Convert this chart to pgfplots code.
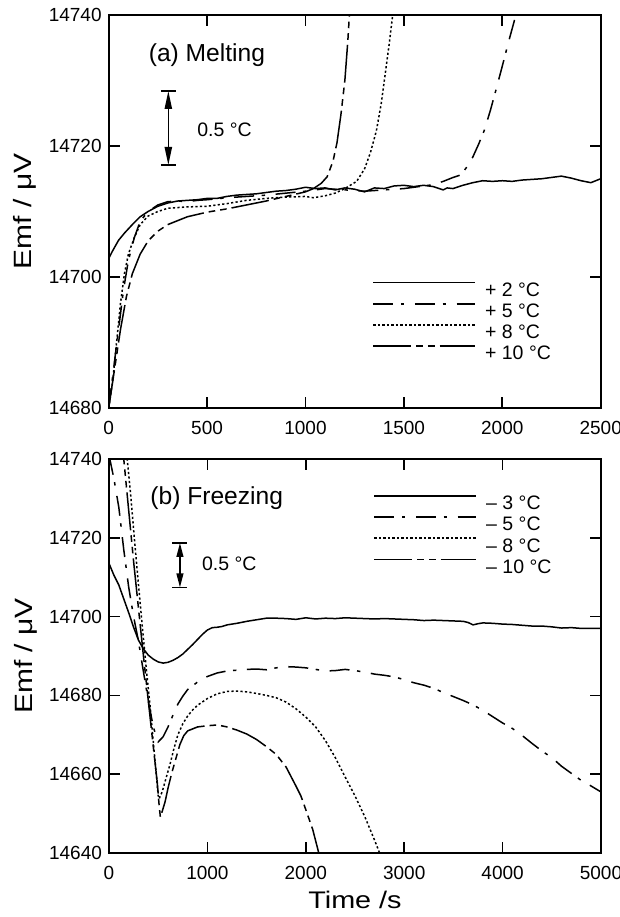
\documentclass[border=0pt]{standalone}
\usepackage{fontspec}
\setmainfont{Liberation Sans}
\newfontfamily\labelfont{Liberation Sans}[FakeStretch=1.2]
\usepackage{pgfplots}
\pgfplotsset{compat=1.18}
\usetikzlibrary{arrows.meta}

\pgfplotsset{
  emf/.style={
    scale only axis, width=246pt,
    tick align=inside, xtick pos=both, ytick pos=both,
    major tick length=5.5pt,
    axis line style={line width=0.9pt},
    every tick/.style={black, line width=0.8pt},
    tick label style={font=\fontsize{9.5}{11}\selectfont},
    /pgf/number format/assume math mode=true,
    /pgf/number format/1000 sep={},
    scaled ticks=false,
    xticklabel style={yshift=-3.3pt},
    every axis y label/.style={at={(axis description cs:-0.1565,0.5)}, anchor=base, rotate=90,
      font=\labelfont\fontsize{12.5}{14}\selectfont},
    every axis x label/.style={at={(axis description cs:0.5,0)}, anchor=base, yshift=-27.5pt,
      font=\labelfont\fontsize{12}{14}\selectfont},
    legend image code/.code={\draw[#1] (0pt,3.4pt) -- (50.8pt,3.4pt);},
    legend cell align=left,
  },
  s2/.style={black, line width=0.75pt, solid},
  s5/.style={black, line width=0.75pt, dash pattern=on 10pt off 3.8pt on 1.7pt off 5.3pt},
  s8/.style={black, line width=0.75pt, dash pattern=on 1.1pt off 1.15pt},
  s10/.style={black, line width=0.75pt, dash pattern=on 19pt off 2.5pt on 3.3pt off 2.5pt on 3.3pt off 2.5pt},
  leg/.style={legend style={draw=none, fill=none, inner sep=0pt, row sep=3.3pt,
    font=\fontsize{9.75}{11}\selectfont,
    nodes={inner ysep=0pt, inner xsep=0pt, text height=7pt, text depth=0pt},
    /tikz/every odd column/.append style={column sep=4.7pt}}},
}

\begin{document}
\begin{tikzpicture}
% (a) melting
\begin{axis}[emf, leg,
    at={(0pt,0pt)}, anchor=south west, height=196.5pt,
    xmin=0, xmax=2500, ymin=14680, ymax=14740,
    xtick={0,500,...,2500}, ytick={14680,14700,14720,14740},
    ylabel={Emf / μV},
    legend style={at={(axis cs:1339,14698.2)}, anchor=north west, yshift=3.6pt},
]
\addplot[s2] coordinates {
(0,14702.8) (20,14704.0) (50,14705.6) (80,14706.7) (120,14708.0) (160,14709.2)
(200,14710.0) (250,14710.8) (300,14711.3) (350,14711.6) (400,14711.7) (450,14711.8)
(500,14712.0) (550,14712.0) (600,14712.3) (650,14712.5) (700,14712.6) (750,14712.7)
(800,14712.9) (850,14713.1) (900,14713.2) (950,14713.4) (1000,14713.7) (1050,14713.5)
(1100,14713.6) (1150,14713.3) (1200,14713.6) (1250,14713.4) (1300,14713.0) (1350,14713.6)
(1400,14713.5) (1450,14713.9) (1500,14714.0) (1550,14713.8) (1600,14714.0) (1650,14713.8)
(1700,14713.3) (1720,14713.6) (1750,14713.5) (1800,14714.0) (1850,14714.4) (1900,14714.7)
(1950,14714.6) (2000,14714.7) (2050,14714.6) (2100,14714.8) (2150,14714.9) (2200,14715.0)
(2250,14715.2) (2300,14715.4) (2350,14715.1) (2400,14714.7) (2450,14714.4) (2500,14715.0)
};
\addlegendentry{+ 2 °C}
\addplot[s5] coordinates {
(0,14680) (25,14686) (50,14692) (75,14698) (100,14702.5) (130,14706) (160,14708.5)
(200,14710) (250,14711) (300,14711.5) (350,14711.6) (400,14711.5) (450,14711.7)
(500,14711.8) (600,14712.1) (700,14712.3) (800,14712.5) (900,14712.8) (1000,14713.1)
(1050,14713.3) (1100,14713.5) (1200,14713.3) (1300,14713.1) (1400,14713.3) (1500,14713.5)
(1600,14713.9) (1650,14714.1) (1700,14714.6) (1750,14715.2) (1790,14715.6) (1820,14716.8)
(1850,14718.3) (1880,14720.3) (1910,14722.5) (1940,14725.5) (1970,14728.8) (2000,14732.2)
(2030,14735.7) (2060,14739.0) (2075,14741)
};
\addlegendentry{+ 5 °C}
\addplot[s8] coordinates {
(0,14680) (20,14684) (40,14690) (60,14696) (80,14700.5) (100,14703.5) (130,14706)
(160,14708) (200,14709.3) (250,14710.0) (300,14710.5) (350,14710.6) (400,14710.7)
(500,14710.8) (600,14711.2) (700,14711.7) (800,14712.0) (900,14712.2) (1000,14712.3)
(1040,14712.1) (1100,14712.4) (1150,14712.8) (1200,14713.5) (1260,14714.6) (1300,14716.5)
(1330,14719) (1360,14722.3) (1385,14726.5) (1405,14731) (1425,14735.5) (1445,14740.5)
};
\addlegendentry{+ 8 °C}
\addplot[s10] coordinates {
(0,14680) (30,14686) (60,14692) (90,14697) (120,14700.5) (160,14703.5) (200,14705.5)
(250,14707.0) (300,14708.0) (350,14708.6) (400,14709.2) (500,14709.9) (600,14710.4)
(700,14711.0) (800,14711.6) (900,14712.3) (1000,14713.0) (1040,14713.5) (1080,14714.3)
(1110,14715.3) (1140,14717.7) (1160,14720.5) (1180,14724.8) (1200,14730.0) (1215,14736.0)
(1225,14741)
};
\addlegendentry{+ 10 °C}
\node[anchor=base west, font=\fontsize{12.3}{14}\selectfont] at (axis cs:168,14732.9) {(a) Melting};
\draw[line width=0.8pt] (axis cs:265,14728.4) -- (axis cs:341,14728.4);
\draw[line width=0.8pt] (axis cs:265,14717.1) -- (axis cs:341,14717.1);
\draw[line width=0.8pt, {Triangle[length=9pt,width=3.6pt]}-{Triangle[length=9pt,width=3.6pt]}]
  (axis cs:303,14717.1) -- (axis cs:303,14728.4);
\node[anchor=west, inner sep=0pt, font=\fontsize{9.75}{11}\selectfont] at (axis cs:448,14722.4) {0.5 °C};
\end{axis}

% (b) freezing
\begin{axis}[emf, leg,
    at={(0.15pt,-222.5pt)}, anchor=south west, height=197pt,
    xmin=0, xmax=5000, ymin=14640, ymax=14740,
    xtick={0,1000,...,5000}, ytick={14640,14660,...,14740},
    ylabel={Emf / μV}, xlabel={Time /s},
    legend style={at={(axis cs:2686,14729.1)}, anchor=north west, yshift=3.6pt},
]
\addplot[s2] coordinates {
(0,14713.5) (50,14710.5) (100,14708.0) (150,14704.5) (200,14701.0) (250,14697.3)
(300,14694.0) (350,14691.8) (400,14690.2) (450,14689.2) (500,14688.5) (550,14688.2)
(600,14688.4) (650,14688.9) (700,14689.6) (750,14690.5) (800,14691.7) (850,14692.9)
(900,14694.2) (950,14695.5) (1000,14696.6) (1050,14697.2) (1100,14697.3) (1150,14697.5)
(1200,14697.9) (1300,14698.3) (1400,14698.8) (1500,14699.2) (1600,14699.6) (1700,14699.6)
(1800,14699.5) (1900,14699.3) (2000,14699.7) (2100,14699.4) (2200,14699.6) (2300,14699.5)
(2400,14699.7) (2500,14699.6) (2600,14699.5) (2700,14699.4) (2800,14699.5) (2900,14699.4)
(3000,14699.3) (3100,14699.2) (3200,14699.0) (3300,14699.1) (3400,14699.0) (3500,14698.9)
(3600,14698.8) (3650,14698.5) (3700,14697.9) (3750,14698.2) (3800,14698.4) (3900,14698.3)
(4000,14698.1) (4100,14698.0) (4200,14697.8) (4300,14697.6) (4400,14697.6) (4500,14697.4)
(4600,14697.1) (4700,14697.2) (4800,14697.0) (4900,14697.0) (5000,14697.0)
};
\addlegendentry{– 3 °C}
\addplot[s5] coordinates {
(0,14741) (50,14735) (100,14727.7) (150,14717) (200,14707.5) (250,14700) (300,14693.7)
(350,14686) (400,14678.5) (450,14672) (500,14668.2) (550,14669.5) (600,14672) (650,14675)
(700,14677.8) (750,14679.8) (800,14681.5) (900,14683.4) (1000,14684.8) (1100,14685.7)
(1200,14686.2) (1300,14686.4) (1400,14686.6) (1500,14686.7) (1600,14686.5) (1700,14687.0)
(1800,14687.3) (1900,14687.2) (2000,14687.0) (2100,14686.6) (2200,14686.2) (2300,14686.3)
(2400,14686.6) (2500,14686.3) (2600,14685.9) (2700,14685.4) (2800,14685.1) (2900,14684.7)
(3000,14684.0) (3100,14683.2) (3200,14682.6) (3300,14681.8) (3400,14680.7) (3500,14679.7)
(3600,14678.7) (3700,14677.6) (3800,14676.2) (3900,14674.6) (4000,14673.0) (4100,14671.6)
(4200,14669.8) (4300,14667.8) (4400,14665.9) (4500,14664.2) (4600,14662.0) (4700,14660.2)
(4800,14658.4) (4900,14657.0) (5000,14655.5)
};
\addlegendentry{– 5 °C}
\addplot[s8] coordinates {
(0,14745) (170,14745) (185,14740) (220,14731) (260,14719.2) (300,14708) (340,14697.1)
(380,14686.5) (420,14676.7) (460,14665.5) (500,14654.6) (510,14653.8) (540,14655.5)
(580,14659) (620,14662.5) (660,14666.5) (700,14670) (750,14672.8) (800,14674.8)
(850,14676.3) (900,14677.5) (1000,14679.2) (1100,14680.4) (1200,14681.0) (1300,14681.1)
(1400,14680.9) (1500,14680.5) (1600,14680.0) (1700,14679.4) (1800,14678.3) (1900,14676.6)
(2000,14674.5) (2100,14672.0) (2200,14668.5) (2300,14664.2) (2400,14659.3) (2500,14654.5)
(2600,14649.2) (2700,14643.2) (2750,14640) (2770,14638.5)
};
\addlegendentry{– 8 °C}
\addplot[s10] coordinates {
(0,14745) (130,14745) (150,14740) (200,14727) (250,14714) (300,14702) (350,14690)
(400,14678.5) (450,14667) (490,14658) (510,14652) (522,14649.1) (540,14650.5) (570,14653)
(600,14656.5) (640,14660.5) (680,14664) (720,14667.5) (760,14669.8) (800,14671.0)
(900,14672.0) (1000,14672.3) (1100,14672.5) (1200,14672.0) (1300,14671.2) (1400,14670.2)
(1500,14668.8) (1600,14667.0) (1700,14665) (1800,14661.8) (1900,14657) (1950,14654.5)
(2000,14651) (2070,14646) (2130,14640.2) (2150,14638)
};
\addlegendentry{– 10 °C}
\node[anchor=base west, font=\fontsize{12.3}{14}\selectfont] at (axis cs:349,14728.5) {(b) Freezing};
\draw[line width=0.8pt] (axis cs:645,14718.7) -- (axis cs:797,14718.7);
\draw[line width=0.8pt] (axis cs:645,14707.4) -- (axis cs:797,14707.4);
\draw[line width=0.8pt, {Triangle[length=7pt,width=3.4pt]}-{Triangle[length=7pt,width=3.4pt]}]
  (axis cs:721,14707.4) -- (axis cs:721,14718.7);
\node[anchor=west, inner sep=0pt, font=\fontsize{9.75}{11}\selectfont] at (axis cs:942,14713.3) {0.5 °C};
\end{axis}
\pgfresetboundingbox
\useasboundingbox (-54.35pt,-254.5pt) rectangle (255.65pt,204pt);
\end{tikzpicture}
\end{document}
